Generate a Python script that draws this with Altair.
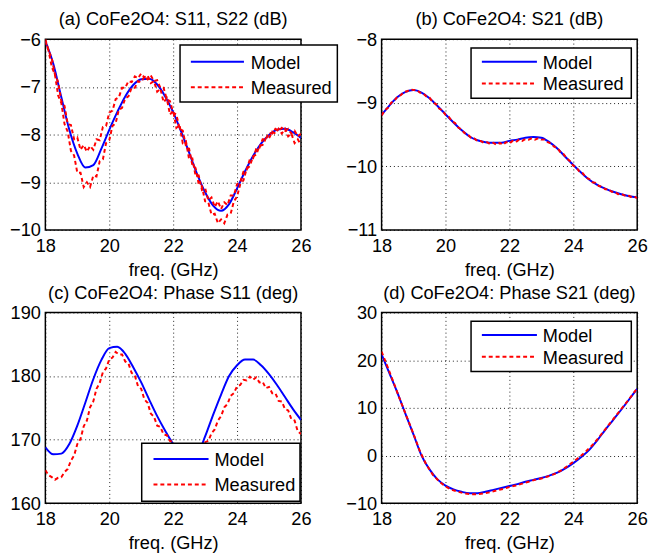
import altair as alt
import pandas as pd

FONT = "Liberation Sans"
FS = 18.5
TFS = 18.5
LFS = 18.5

# ---------------- data ----------------
FREQ_MODEL = [18 + 0.25 * i for i in range(33)]
FREQ_MEAS = [round(18 + 0.1 * i, 1) for i in range(81)]
FREQ_MEAS_D = [round(18 + 0.2 * i, 1) for i in range(41)]

A_MODEL = [-6.04, -6.52, -7.22, -7.90, -8.40, -8.69, -8.64, -8.30, -7.90, -7.53, -7.20,
           -6.96, -6.84, -6.83, -6.95, -7.20, -7.53, -7.94, -8.38, -8.83, -9.21, -9.49,
           -9.60, -9.46, -9.13, -8.77, -8.45, -8.19, -8.01, -7.90, -7.88, -7.95, -8.07]

A_MEAS_S11 = [-6.00, -6.24, -6.40, -6.74, -6.90, -7.30, -7.40, -7.78, -7.80, -8.10,
              -8.06, -8.32, -8.22, -8.36, -8.24, -8.32, -8.10, -8.12, -7.84, -7.82,
              -7.54, -7.50, -7.26, -7.22, -7.02, -7.02, -6.88, -6.90, -6.78, -6.82,
              -6.72, -6.80, -6.76, -6.92, -6.88, -7.10, -7.04, -7.32, -7.24, -7.58,
              -7.50, -7.86, -7.80, -8.18, -8.14, -8.52, -8.50, -8.86, -8.86, -9.16,
              -9.12, -9.38, -9.32, -9.52, -9.40, -9.56, -9.42, -9.48, -9.28, -9.28,
              -9.04, -9.00, -8.78, -8.74, -8.52, -8.50, -8.30, -8.28, -8.10, -8.10,
              -7.96, -7.98, -7.88, -7.92, -7.86, -7.92, -7.88, -7.98, -7.92, -8.04,
              -7.98]

A_MEAS_S22 = [-6.05, -6.24, -6.58, -6.74, -7.18, -7.34, -7.78, -7.94, -8.34, -8.44,
              -8.80, -8.80, -9.10, -9.00, -9.10, -8.86, -8.88, -8.56, -8.52, -8.18,
              -8.12, -7.82, -7.76, -7.48, -7.44, -7.24, -7.20, -7.02, -7.02, -6.88,
              -6.90, -6.78, -6.84, -6.76, -6.88, -6.86, -7.02, -7.02, -7.26, -7.30,
              -7.54, -7.58, -7.88, -7.92, -8.24, -8.30, -8.64, -8.70, -9.04, -9.08,
              -9.40, -9.42, -9.68, -9.66, -9.86, -9.78, -9.86, -9.68, -9.66, -9.40,
              -9.30, -9.04, -8.96, -8.72, -8.66, -8.46, -8.42, -8.24, -8.22, -8.08,
              -8.08, -7.94, -7.98, -7.88, -7.98, -7.88, -8.04, -7.98, -8.18, -8.10,
              -8.22]

B_MODEL = [-9.19, -9.04, -8.91, -8.83, -8.80, -8.84, -8.93, -9.05, -9.18, -9.31, -9.43,
           -9.53, -9.59, -9.62, -9.63, -9.63, -9.60, -9.58, -9.55, -9.54, -9.55, -9.62,
           -9.72, -9.85, -9.98, -10.10, -10.21, -10.29, -10.35, -10.40, -10.44, -10.47,
           -10.49]

B_MEAS = [-9.20, -9.12, -9.08, -9.00, -8.97, -8.90, -8.88, -8.83, -8.82, -8.79,
          -8.80, -8.80, -8.84, -8.85, -8.90, -8.92, -8.99, -9.02, -9.09, -9.12,
          -9.19, -9.22, -9.29, -9.32, -9.39, -9.42, -9.48, -9.50, -9.55, -9.56,
          -9.60, -9.60, -9.63, -9.62, -9.65, -9.63, -9.66, -9.63, -9.66, -9.62,
          -9.64, -9.60, -9.62, -9.58, -9.60, -9.57, -9.58, -9.56, -9.58, -9.56,
          -9.58, -9.58, -9.62, -9.64, -9.69, -9.71, -9.78, -9.81, -9.88, -9.92,
          -9.99, -10.02, -10.09, -10.11, -10.18, -10.20, -10.25, -10.26, -10.31, -10.32,
          -10.36, -10.36, -10.40, -10.40, -10.44, -10.43, -10.46, -10.45, -10.48, -10.47,
          -10.50]

C_MODEL = [168.8, 167.7, 167.8, 169.3, 172.2, 175.8, 179.5, 182.5, 184.4, 184.6, 183.5,
           181.4, 179.0, 176.3, 173.7, 171.4, 169.3, 167.7, 166.9, 167.6, 170.5, 173.9,
           177.1, 180.0, 181.7, 182.6, 182.6, 181.7, 180.3, 178.6, 176.7, 174.8, 173.1]

C_MEAS = [165.2, 164.4, 164.1, 163.7, 164.0, 164.1, 164.9, 165.4, 166.7, 167.5,
          169.3, 170.1, 172.1, 173.0, 175.1, 176.0, 178.0, 178.9, 180.6, 181.2,
          182.6, 182.9, 183.8, 183.4, 183.4, 182.3, 182.0, 180.5, 180.1, 178.4,
          178.0, 176.3, 175.8, 174.1, 173.6, 172.2, 172.0, 170.8, 170.7, 169.8,
          169.6, 168.8, 168.7, 168.1, 168.2, 167.8, 168.1, 168.0, 168.6, 168.7,
          169.6, 169.8, 171.0, 171.6, 173.0, 173.7, 175.1, 175.6, 176.9, 177.3,
          178.4, 178.6, 179.4, 179.3, 179.9, 179.4, 179.8, 179.0, 179.1, 178.1,
          178.3, 177.3, 177.3, 176.1, 176.0, 174.8, 174.6, 173.2, 173.0, 171.3,
          170.9]

D_MODEL = [21.2, 17.2, 13.1, 8.7, 4.4, 0.0, -2.9, -5.0, -6.3, -7.1, -7.6, -7.9, -7.9,
           -7.6, -7.2, -6.8, -6.4, -6.0, -5.5, -5.1, -4.7, -4.2, -3.6, -2.7, -1.6, -0.3,
           1.2, 3.2, 5.4, 7.5, 9.6, 11.8, 14.0]

D_MEAS = [21.8, 18.4, 14.9, 11.3, 7.9, 4.5, 0.9, -1.9, -4.0, -5.4, -6.5, -7.2, -7.6,
          -7.95, -8.1, -8.1, -7.95, -7.7, -7.3, -7.0, -6.6, -6.3, -5.9, -5.5, -5.1,
          -4.8, -4.4, -3.9, -3.2, -2.3, -1.3, -0.3, 0.9, 2.2, 3.8, 5.5, 7.2, 8.9,
          10.6, 12.3, 14.1]

X_TICKS = [18, 20, 22, 24, 26]
TITLES = ["(a) CoFe2O4: S11, S22 (dB)", "(b) CoFe2O4: S21 (dB)",
          "(c) CoFe2O4: Phase S11 (deg)", "(d) CoFe2O4: Phase S21 (deg)"]
Y_DOMAINS = [[-10, -6], [-11, -8], [160, 190], [-10, 30]]
Y_TICKS = [[-10, -9, -8, -7, -6], [-11, -10, -9, -8], [160, 170, 180, 190], [-10, 0, 10, 20, 30]]
LEGEND_LABELS = ["Model", "Measured"]

W, H = 260, 194
BLUE = "#0000ff"
RED = "#ff0000"


def make_panel(title, ydom, yticks, model_f, model_v, meas_f, meas_traces, leg):
    model_df = pd.DataFrame({"f": model_f, "v": model_v})
    rows = []
    for name, vals in meas_traces:
        for f, v in zip(meas_f, vals):
            rows.append({"f": f, "v": v, "trace": name})
    meas_df = pd.DataFrame(rows)

    x = alt.X("f:Q", scale=alt.Scale(domain=[18, 26], nice=False, zero=False),
              axis=alt.Axis(values=X_TICKS, title="freq. (GHz)"))
    y = alt.Y("v:Q", scale=alt.Scale(domain=ydom, nice=False, zero=False),
              axis=alt.Axis(values=yticks, title=None))

    model = alt.Chart(model_df).mark_line(color=BLUE, strokeWidth=2, interpolate="monotone",
                                          clip=True).encode(x=x, y=y)
    meas = alt.Chart(meas_df).mark_line(color=RED, strokeWidth=2, strokeDash=[4, 3],
                                        clip=True).encode(x=x, y=y, detail="trace:N")

    one = pd.DataFrame({"k": [0]})
    bx0, bx1, by0, by1, sx0, sx1, ym, yr, tx = leg
    box = alt.Chart(one).mark_rect(fill="white", stroke="black", strokeWidth=1.5).encode(
        x=alt.value(bx0), x2=alt.value(bx1), y=alt.value(by0), y2=alt.value(by1))
    r1 = alt.Chart(one).mark_rule(color=BLUE, strokeWidth=2).encode(
        x=alt.value(sx0), x2=alt.value(sx1), y=alt.value(ym))
    r2 = alt.Chart(one).mark_rule(color=RED, strokeWidth=2, strokeDash=[4, 3]).encode(
        x=alt.value(sx0), x2=alt.value(sx1), y=alt.value(yr))
    t1 = alt.Chart(one).mark_text(text=LEGEND_LABELS[0], align="left", baseline="middle",
                                  font=FONT, fontSize=LFS, color="black").encode(
        x=alt.value(tx), y=alt.value(ym + 1))
    t2 = alt.Chart(one).mark_text(text=LEGEND_LABELS[1], align="left", baseline="middle",
                                  font=FONT, fontSize=LFS, color="black").encode(
        x=alt.value(tx), y=alt.value(yr + 1))
    ttl = alt.Chart(one).mark_text(text=title, align="center", baseline="alphabetic",
                                   font=FONT, fontSize=TFS, color="black").encode(
        x=alt.value(W / 2), y=alt.value(-14))

    return alt.layer(model, meas, box, r1, r2, t1, t2, ttl).properties(width=W, height=H)


pa = make_panel(TITLES[0], Y_DOMAINS[0], Y_TICKS[0], FREQ_MODEL, A_MODEL, FREQ_MEAS,
                [("S11", A_MEAS_S11), ("S22", A_MEAS_S22)],
                (137, 297, 6, 64, 148, 202, 23, 49, 209))
pb = make_panel(TITLES[1], Y_DOMAINS[1], Y_TICKS[1], FREQ_MODEL, B_MODEL, FREQ_MEAS,
                [("S21", B_MEAS)],
                (91, 254, 9, 60, 102, 158, 23, 45, 164))
pc = make_panel(TITLES[2], Y_DOMAINS[2], Y_TICKS[2], FREQ_MODEL, C_MODEL, FREQ_MEAS,
                [("S11", C_MEAS)],
                (98, 259, 133, 192, 110, 166, 149, 175, 172))
pd_ = make_panel(TITLES[3], Y_DOMAINS[3], Y_TICKS[3], FREQ_MODEL, D_MODEL, FREQ_MEAS_D,
                 [("S21", D_MEAS)],
                 (91, 254, 9, 60, 102, 158, 23, 45, 164))

chart = alt.concat(pa, pb, pc, pd_, columns=2,
                   spacing=alt.RowColnumber(row=84, column=82),
                   bounds="flush").properties(
    padding={"left": 0, "top": -3, "right": 0, "bottom": 0}
).configure_view(
    stroke="black", strokeWidth=1.5
).configure_axis(
    labelFont=FONT, labelFontSize=FS, labelColor="black",
    labelFlush=False, labelOverlap=False,
    ticks=False, tickSize=0, domain=False,
    grid=True, gridColor="black", gridDash=[1, 3], gridWidth=1, gridOpacity=0.9,
    titleFont=FONT, titleFontSize=FS, titleFontWeight="normal", titleColor="black",
    titlePadding=5.5
).configure_axisX(
    labelPadding=7
).configure_axisY(
    labelPadding=5
)

chart.save("out.html", embed_options={"renderer": "svg", "actions": False})
